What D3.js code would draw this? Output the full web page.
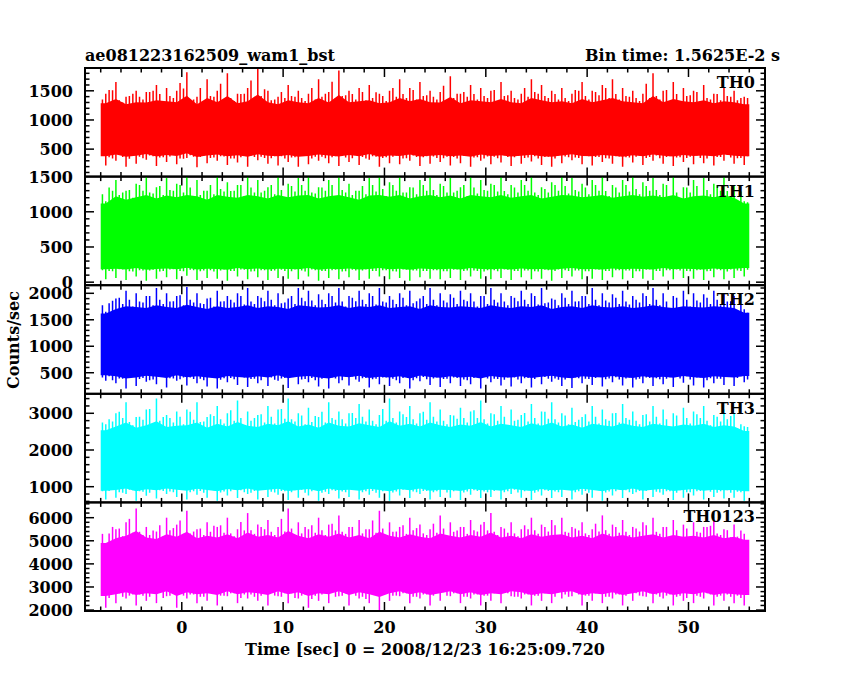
<!DOCTYPE html>
<html>
<head>
<meta charset="utf-8">
<script src="https://cdn.jsdelivr.net/npm/d3@7"></script>
<style>
  body { margin: 0; background: #fff; }
  text { font-family: "DejaVu Serif", serif; font-weight: bold; fill: #000; }
</style>
</head>
<body>
<svg id="chart" width="850" height="680"></svg>
<script>
// panel names and colours
const names = ["TH0", "TH1", "TH2", "TH3", "TH0123"];
const colors = ["#ff0000", "#00ff00", "#0000ff", "#00ffff", "#ff00ff"];
const yDomains = [[29, 1891], [-43, 1500], [102, 2153], [572, 3531], [1960, 6662]];
const yMajor = [[500, 1000, 1500], [0, 500, 1000, 1500], [500, 1000, 1500, 2000], [1000, 2000, 3000], [2000, 3000, 4000, 5000, 6000]];
const yMinorStep = [100, 100, 100, 200, 200];
const xTicks = [0, 10, 20, 30, 40, 50];

// dense core of each light curve (counts/sec)
const coreLo = [480, 280, 520, 1050, 2950];
const coreHi = [1200, 1100, 1600, 2450, 4900];

// 1 s bins from -8 to 56 s: peak and trough
const th0Hi = [1450,1650,1400,1500,1480,1600,1550,1500,1820,1400,1700,1500,1800,1450,1550,1880,1500,1400,1600,1500,1450,1700,1480,1850,1500,1550,1600,1450,1500,1700,1550,1650,1500,1480,1750,1450,1600,1550,1500,1650,1500,1450,1700,1600,1500,1550,1450,1650,1500,1600,1700,1550,1500,1450,1800,1500,1650,1550,1500,1600,1450,1550,1500,1400];
const th0Lo = [220,300,200,250,320,210,280,240,350,190,260,300,230,270,200,310,250,220,280,200,240,300,260,210,280,230,320,200,260,240,300,210,250,280,220,260,200,300,240,270,210,250,290,230,200,260,310,240,220,280,250,200,270,230,300,250,210,280,240,260,220,300,250,230];
const th1Hi = [1150,1450,1300,1400,1500,1350,1480,1400,1500,1450,1300,1500,1420,1380,1500,1450,1350,1500,1400,1480,1500,1350,1450,1500,1400,1300,1480,1500,1420,1500,1350,1450,1500,1400,1480,1350,1500,1450,1400,1500,1380,1450,1500,1350,1420,1500,1480,1400,1450,1500,1380,1450,1500,1420,1480,1400,1500,1350,1450,1480,1400,1500,1380,1150];
const th1Lo = [40,60,30,80,20,50,70,40,90,30,60,50,20,80,40,70,30,60,50,40,80,20,60,40,70,30,50,80,40,60,20,70,50,40,60,30,80,50,40,60,30,70,40,50,20,60,80,40,50,30,70,40,60,50,30,80,40,60,50,30,70,40,60,80];
const th2Hi = [1650,1900,2050,2000,1950,2100,2000,1950,2120,2000,1900,2050,1950,2000,2100,1950,2050,2000,1900,2100,2050,1980,2000,2100,1950,2050,2000,2100,1950,2000,2050,1900,2100,2000,1980,2050,2000,1950,2100,2000,1950,2050,2000,2100,1900,2000,2050,1950,2100,2000,1980,2050,1950,2000,2100,2000,1950,2050,2000,1980,2050,2000,1950,1700];
const th2Lo = [350,300,200,250,330,280,220,350,260,300,240,200,320,270,230,300,250,350,210,280,320,240,200,300,260,330,220,280,250,300,200,340,270,230,300,250,280,200,320,260,240,300,220,280,330,250,210,300,270,240,320,260,220,300,250,280,230,310,260,220,300,270,250,320];
const th3Hi = [2700,3000,3300,2900,3100,3400,2950,3050,3100,3300,2900,3200,3000,3350,3050,2950,3200,3100,3400,3000,3150,2900,3300,3050,3000,3250,3100,2950,3400,3050,3200,3000,3300,3100,2950,3150,3050,3350,3000,3200,3100,2950,3250,3050,3300,3000,3150,2900,3200,3100,3000,3250,3050,2950,3200,3100,3000,3150,3050,3200,2950,3100,3000,2650];
const th3Lo = [650,700,800,620,750,680,800,720,650,780,700,620,760,690,800,650,720,780,640,700,760,620,800,680,720,650,780,700,620,760,690,800,650,720,700,640,780,690,720,650,800,700,640,760,690,720,650,780,700,620,760,690,800,650,720,780,640,700,760,650,720,680,700,620];
const th0123Hi = [4900,5500,5800,6400,5600,5400,6000,5700,6300,5500,5800,5600,6000,5500,6200,5700,5900,5600,6400,5800,5500,6000,5700,6100,5600,5900,5500,6300,5800,5600,6000,5700,5500,6100,5800,5600,5900,5700,6200,5600,5800,5500,6000,5700,5900,6000,5600,5800,5500,6100,5700,5900,5600,5800,6000,5600,5900,5700,5800,5600,5900,5500,5700,5300];
const th0123Lo = [2100,2300,2500,2200,2400,2300,2600,2100,2500,2300,2400,2200,2600,2300,2500,2400,2200,2600,2300,2500,2100,2400,2300,2600,2200,2500,2300,2000,2400,2600,2300,2500,2200,2400,2600,2300,2500,2200,2400,2300,2600,2500,2200,2400,2300,2500,2600,2200,2400,2300,2500,2200,2400,2600,2300,2500,2200,2400,2300,2500,2200,2400,2300,2200];

const hiData = [th0Hi, th1Hi, th2Hi, th3Hi, th0123Hi];
const loData = [th0Lo, th1Lo, th2Lo, th3Lo, th0123Lo];

var svg = d3.select("#chart");
var plotLeft = 85, plotRight = 765, plotTop = 68, plotBottom = 611;
var panelH = (plotBottom - plotTop) / names.length;

var x = d3.scaleLinear().domain([-9.55, 57.55]).range([plotLeft, plotRight]);

names.forEach(function(name, p) {
  var y0 = plotTop + p * panelH, y1 = y0 + panelH;
  var y = d3.scaleLinear().domain(yDomains[p]).range([y1, y0]);
  var g = svg.append("g");
  var clipId = "clip" + p;
  g.append("clipPath").attr("id", clipId)
    .append("rect").attr("x", plotLeft).attr("y", y0).attr("width", plotRight - plotLeft).attr("height", panelH);
  var plot = g.append("g").attr("clip-path", "url(#" + clipId + ")");

  var hi = hiData[p], lo = loData[p];
  var bins = hi.map(function(v, i) { return -8 + (i + 0.5) * 64 / hi.length; });

  // dense body: uneven band between trough and peak of each bin
  var pts = bins.map(function(t, i) { return { t: t, i: i }; });
  pts.unshift({ t: -8, i: 0 });
  pts.push({ t: 56, i: hi.length - 1 });
  var body = d3.area()
    .x(function(d) { return x(d.t); })
    .y1(function(d) { return y(coreHi[p] + (hi[d.i] - coreHi[p]) * 0.35); })
    .y0(function(d) { return y(coreLo[p] - (coreLo[p] - lo[d.i]) * 0.4); });
  plot.append("path").datum(pts).attr("d", body).attr("fill", colors[p]);

  // spikes: each bin drawn from trough to peak, plus two lower companions
  bins.forEach(function(t, i) {
    var j = (i + 1) % hi.length;
    var k = (i + 7) % hi.length;
    plot.append("line")
      .attr("x1", x(t)).attr("x2", x(t))
      .attr("y1", y(lo[i])).attr("y2", y(hi[i]))
      .attr("stroke", colors[p]).attr("stroke-width", 1.5);
    plot.append("line")
      .attr("x1", x(t - 0.33)).attr("x2", x(t - 0.33))
      .attr("y1", y((lo[j] + coreLo[p]) / 2)).attr("y2", y((hi[k] + coreHi[p]) / 2))
      .attr("stroke", colors[p]).attr("stroke-width", 1.5);
    plot.append("line")
      .attr("x1", x(t + 0.33)).attr("x2", x(t + 0.33))
      .attr("y1", y((lo[k] + coreLo[p]) / 2)).attr("y2", y(hi[j] * 0.7 + coreHi[p] * 0.3))
      .attr("stroke", colors[p]).attr("stroke-width", 1.5);
  });

  // y ticks both sides
  var minor = d3.range(Math.ceil(yDomains[p][0] / yMinorStep[p]) * yMinorStep[p], yDomains[p][1], yMinorStep[p]);
  minor.forEach(function(v) {
    var major = yMajor[p].indexOf(v) >= 0;
    var len = major ? 9 : 4.5;
    g.append("line").attr("x1", plotLeft).attr("x2", plotLeft + len).attr("y1", y(v)).attr("y2", y(v)).attr("stroke", "#000").attr("stroke-width", 1.5);
    g.append("line").attr("x1", plotRight).attr("x2", plotRight - len).attr("y1", y(v)).attr("y2", y(v)).attr("stroke", "#000").attr("stroke-width", 1.5);
  });
  yMajor[p].forEach(function(v) {
    g.append("text").attr("x", plotLeft - 12).attr("y", y(v) + 6)
      .attr("text-anchor", "end").attr("font-size", 16).text(v);
  });

  // x ticks top and bottom of each panel
  d3.range(-8, 57, 2).forEach(function(v) {
    var len = v % 10 === 0 ? 9 : 4.5;
    g.append("line").attr("x1", x(v)).attr("x2", x(v)).attr("y1", y1).attr("y2", y1 - len).attr("stroke", "#000").attr("stroke-width", 1.5);
    g.append("line").attr("x1", x(v)).attr("x2", x(v)).attr("y1", y0).attr("y2", y0 + len).attr("stroke", "#000").attr("stroke-width", 1.5);
  });

  g.append("rect").attr("x", plotLeft).attr("y", y0).attr("width", plotRight - plotLeft).attr("height", panelH)
    .attr("fill", "none").attr("stroke", "#000").attr("stroke-width", 2);

  g.append("text").attr("x", plotRight - 10).attr("y", y0 + 20)
    .attr("text-anchor", "end").attr("font-size", 16).text(name);
});

xTicks.forEach(function(v) {
  svg.append("text").attr("x", x(v)).attr("y", 633)
    .attr("text-anchor", "middle").attr("font-size", 16).text(v);
});

svg.append("text").attr("x", plotLeft).attr("y", 61).attr("font-size", 16).text("ae081223162509_wam1_bst");
svg.append("text").attr("x", 780).attr("y", 61).attr("text-anchor", "end").attr("font-size", 16).text("Bin time: 1.5625E-2 s");
svg.append("text").attr("x", 425).attr("y", 655).attr("text-anchor", "middle").attr("font-size", 16)
  .text("Time [sec] 0 = 2008/12/23 16:25:09.720");
svg.append("text").attr("transform", "translate(19,340) rotate(-90)").attr("text-anchor", "middle").attr("font-size", 16)
  .text("Counts/sec");
</script>
</body>
</html>
